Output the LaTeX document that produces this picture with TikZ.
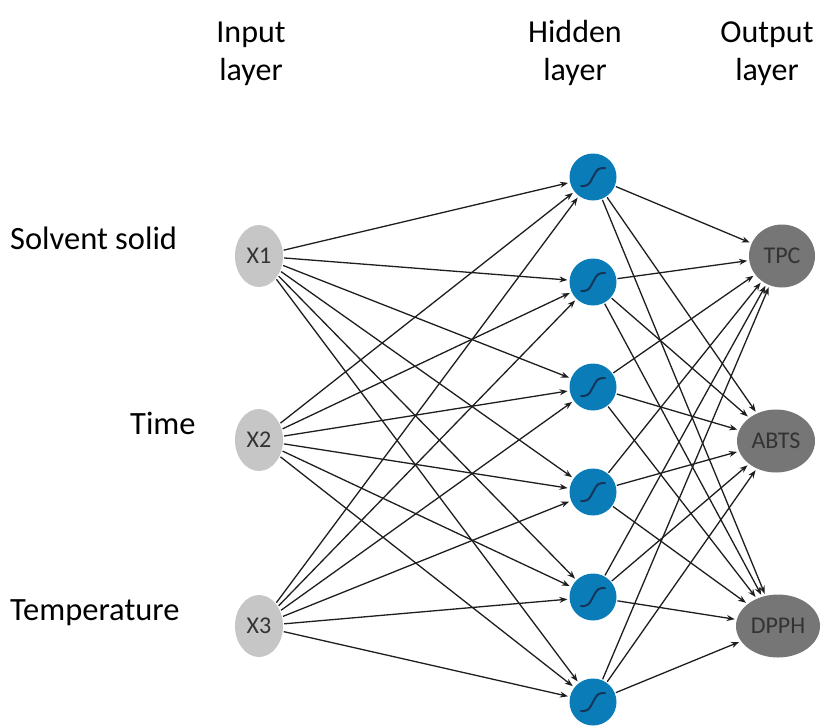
\documentclass[tikz,border=0pt]{standalone}
\usepackage{fontspec}
\setmainfont{Carlito}
\usetikzlibrary{arrows.meta,shapes.geometric}
\definecolor{inpgray}{HTML}{C6C6C6}
\definecolor{outgray}{HTML}{767676}
\definecolor{hidblue}{HTML}{0A7DB8}
\definecolor{sigcol}{HTML}{15365A}
\definecolor{txtdark}{HTML}{333333}
\definecolor{linecol}{HTML}{1E1E1E}
\begin{document}
\begin{tikzpicture}[x=1pt,y=-1pt,
  inp/.style={ellipse, fill=inpgray, minimum width=48pt, minimum height=62pt, inner sep=0pt, font=\fontsize{24}{28}\selectfont, text=txtdark},
  hid/.style={circle, fill=hidblue, minimum size=47pt, inner sep=0pt},
  outn/.style={ellipse, fill=outgray, minimum height=63pt, inner sep=0pt, font=\fontsize{24}{28}\selectfont, text=txtdark},
  conn/.style={-{Stealth[length=8pt,width=6pt]}, line width=1.3pt, draw=linecol, shorten >=2pt, shorten <=1pt},
  lbl/.style={font=\fontsize{32.5}{39}\selectfont, text=black, inner sep=0pt},
  ttl/.style={font=\fontsize{32}{38}\selectfont, text=black, align=center, inner sep=0pt, anchor=base},
  sig/.style={sigcol, line width=2pt, line cap=round, rounded corners=4pt}
]
\useasboundingbox (0,0) rectangle (821,726);

% input nodes
\node[inp] (x1) at (259,256) {X1};
\node[inp] (x2) at (259,440) {X2};
\node[inp] (x3) at (259,626) {X3};

% hidden nodes
\foreach \j/\yy in {1/177,2/282,3/387,4/492,5/597,6/702}{
  \node[hid] (h\j) at (593,\yy) {};
  \draw[sig] ([shift={(-12,9)}]h\j.center) -- ([shift={(-5,9)}]h\j.center) -- ([shift={(5,-9)}]h\j.center) -- ([shift={(12,-9)}]h\j.center);
}

% output nodes
\node[outn, minimum width=66pt] (o1) at (782,256) {TPC};
\node[outn, minimum width=78pt] (o2) at (776,441) {ABTS};
\node[outn, minimum width=84pt] (o3) at (778,626) {DPPH};

% connectors
\foreach \i in {1,2,3}{
  \foreach \j in {1,...,6}{
    \draw[conn] (x\i) -- (h\j);
  }
}
\foreach \j in {1,...,6}{
  \foreach \k in {1,2,3}{
    \draw[conn] (h\j) -- (o\k);
  }
}

% titles
\node[ttl] (tin) at (251,80) {Input\\layer};
\node[ttl] (thid) at (575,80) {Hidden\\layer};
\node[ttl] (tout) at (767,80) {Output\\layer};

% side labels
\node[lbl, anchor=base west] (l1) at (10,249) {Solvent solid};
\node[lbl, anchor=base west] (l2) at (130,434) {Time};
\node[lbl, anchor=base west] (l3) at (10,620) {Temperature};
\end{tikzpicture}
\end{document}
